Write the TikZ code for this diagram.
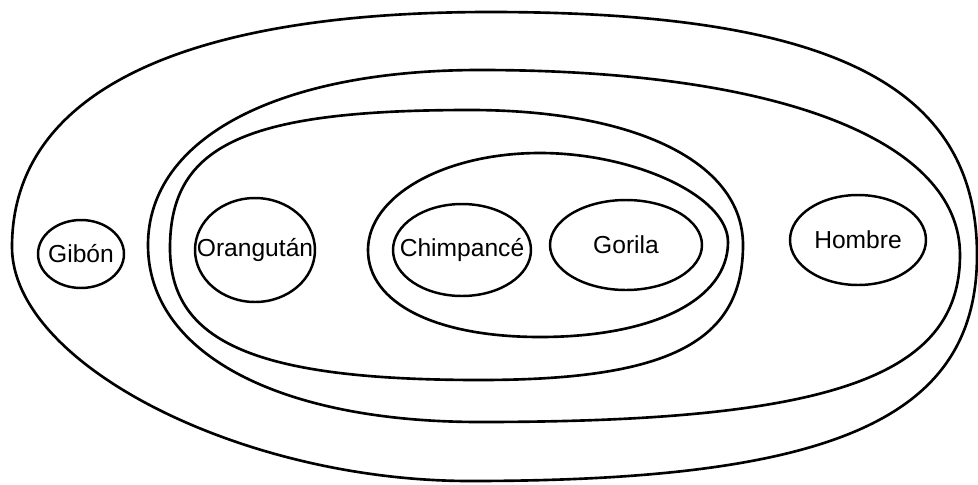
\documentclass[tikz,border=0pt]{standalone}
\usepackage{fontspec}
\setmainfont{Liberation Sans}
\usetikzlibrary{positioning}
\tikzset{
    ring/.style={line width=1.5pt},
    taxon/.style={inner sep=0pt,font=\fontsize{14}{16}\selectfont},
    oval/.style={line width=1.4pt}
}
\begin{document}
\begin{tikzpicture}[x=0.02cm,y=-0.02cm]
\useasboundingbox (0,0) rectangle (978,484);

% nested groups, outermost first
\draw[ring] (12,247) .. controls (12,94) and (179,12) .. (490,12)
  .. controls (831,12) and (977,85) .. (977,255)
  .. controls (977,418) and (835,481) .. (470,481)
  .. controls (241,481) and (12,364) .. cycle;
\draw[ring] (148,245) .. controls (148,138) and (278,70) .. (480,70)
  .. controls (778,70) and (960,140) .. (960,255)
  .. controls (960,377) and (830,422) .. (480,422)
  .. controls (278,422) and (148,353) .. cycle;
\draw[ring] (170,248) .. controls (170,145) and (245,110) .. (470,110)
  .. controls (637,110) and (743,163) .. (743,245)
  .. controls (743,342) and (669,380) .. (480,380)
  .. controls (257,380) and (170,343) .. cycle;
\draw[ring] (368,250) .. controls (368,196) and (444,153) .. (540,153)
  .. controls (634,153) and (728,196) .. (728,242)
  .. controls (728,300) and (653,337) .. (540,337)
  .. controls (435,337) and (368,303) .. cycle;

% species
\node[taxon] (gibon) at (81,254) {Gibón};
\node[taxon] (orang) at (255,250) {Orangután};
\node[taxon] (chimp) at (462,250) {Chimpancé};
\node[taxon] (gorila) at (626,245) {Gorila};
\node[taxon] (hombre) at (858,240) {Hombre};

\draw[oval] (gibon) ellipse [x radius=0.86cm,y radius=0.68cm];
\draw[oval] (orang) ellipse [x radius=1.2cm,y radius=1.04cm];
\draw[oval] (chimp) ellipse [x radius=1.38cm,y radius=0.92cm];
\draw[oval] (gorila) ellipse [x radius=1.52cm,y radius=0.9cm];
\draw[oval] (hombre) ellipse [x radius=1.36cm,y radius=0.9cm];

\end{tikzpicture}
\end{document}
